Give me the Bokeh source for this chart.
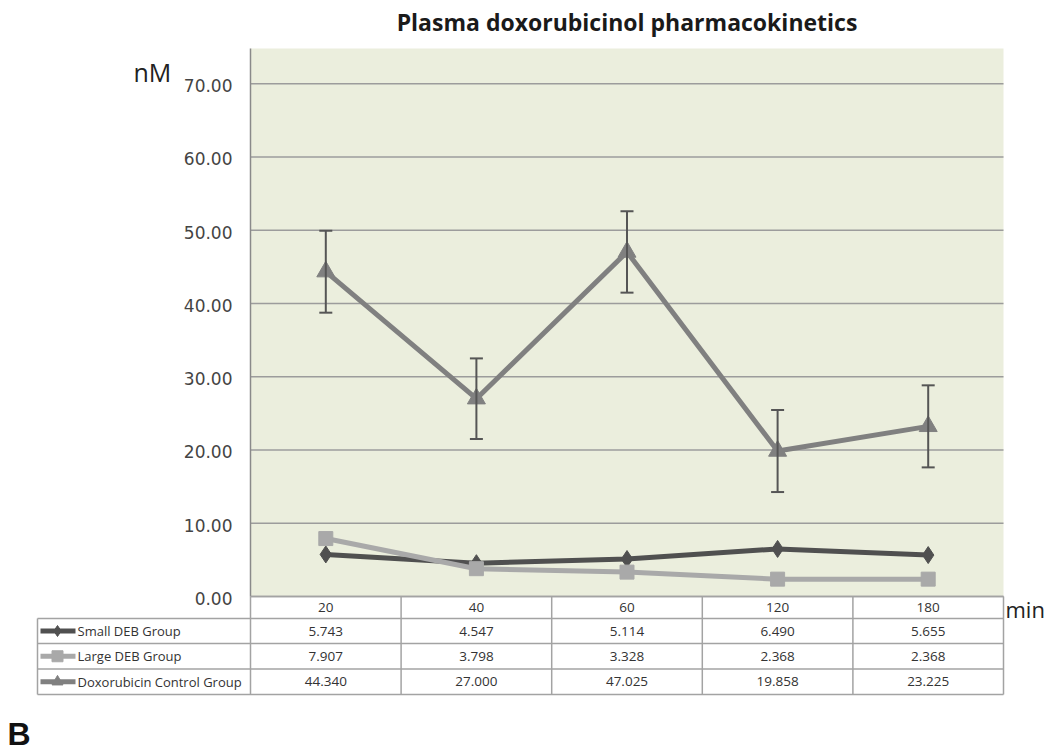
from bokeh.plotting import figure
from bokeh.models import Range1d, ColumnDataSource, Whisker, TeeHead
from bokeh.core.properties import value
from bokeh.embed import file_html
from bokeh.resources import INLINE

# ---------------- data ----------------
categories = ["20", "40", "60", "120", "180"]
series_names = ["Small DEB Group", "Large DEB Group", "Doxorubicin Control Group"]
small_deb = [5.743, 4.547, 5.114, 6.490, 5.655]
large_deb = [7.907, 3.798, 3.328, 2.368, 2.368]
dox_control = [44.340, 27.000, 47.025, 19.858, 23.225]
dox_error = [5.6, 5.5, 5.55, 5.6, 5.6]
y_ticks = [0, 10, 20, 30, 40, 50, 60, 70]
title_text = "Plasma doxorubicinol pharmacokinetics"

series_values = [small_deb, large_deb, dox_control]
series_colors = ["#505050", "#a9a9a9", "#808080"]
series_markers = ["diamond", "square", "triangle"]
series_sizes = [17, 14, 18]

xs = list(range(len(categories)))

# ---------------- layout constants (page pixels) ----------------
W, H = 1050, 756
FRAME_L, FRAME_R, FRAME_T, FRAME_B = 250, 1003, 48, 596
Y_MAX = 74.8
n = len(categories)
col_w = (FRAME_R - FRAME_L) / n
ppu = (FRAME_B - FRAME_T) / Y_MAX   # pixels per y unit


def px_x(p):
    return -0.5 + (p - FRAME_L) / col_w


def px_y(p):
    return (FRAME_B - p) / ppu


p = figure(width=W, height=H, x_range=Range1d(px_x(0), px_x(W)),
           y_range=Range1d(px_y(H), px_y(0)), output_backend="svg",
           toolbar_location=None, x_axis_location=None, y_axis_location=None,
           min_border=0)
p.outline_line_color = None
p.grid.visible = False
p.background_fill_color = "white"
p.border_fill_color = "white"

# plot area background
p.quad(left=[-0.5], right=[n - 0.5], bottom=[0], top=[Y_MAX],
       fill_color="#ebeedd", line_color=None)
# horizontal gridlines
p.segment(x0=[-0.5] * len(y_ticks), y0=y_ticks, x1=[n - 0.5] * len(y_ticks), y1=y_ticks,
          line_color="#9c9c9c", line_width=1.5)
# value axis line
p.segment(x0=[-0.5], y0=[0], x1=[-0.5], y1=[Y_MAX], line_color="#8a8a8a", line_width=1.5)
# value axis labels
p.text(x=[px_x(232)] * len(y_ticks), y=y_ticks, text=["%.2f" % v for v in y_ticks],
       text_align="right", text_baseline="middle", text_font=value("DejaVu Sans"),
       text_font_size="17px", text_color="#444444", y_offset=2)

# series
for vals, col, mk, sz in zip(series_values, series_colors, series_markers, series_sizes):
    p.line(xs, vals, line_color=col, line_width=5)
    p.scatter(xs, vals, marker=mk, size=sz, fill_color=col, line_color=col)

err_src = ColumnDataSource(dict(
    x=xs,
    upper=[v + e for v, e in zip(dox_control, dox_error)],
    lower=[v - e for v, e in zip(dox_control, dox_error)],
))
w = Whisker(source=err_src, base="x", upper="upper", lower="lower",
            line_color="#555555", line_width=2, level="overlay")
w.upper_head = TeeHead(size=13, line_color="#555555", line_width=2)
w.lower_head = TeeHead(size=13, line_color="#555555", line_width=2)
p.add_layout(w)

# title and unit labels
p.text(x=[(n - 1) / 2], y=[px_y(21)], text=[title_text], text_align="center",
       text_baseline="middle", text_font=value("Open Sans"), text_font_style="bold",
       text_font_size="23px", text_color="#1a1a1a")
p.text(x=[px_x(133)], y=[px_y(71)], text=["nM"], text_align="left",
       text_baseline="middle", text_font=value("Open Sans"),
       text_font_size="25px", text_color="#222222")

# ---------------- data table below ----------------
LABEL_L = px_x(37)
row_px = [596, 618, 643, 668.5, 694]
row_edges = [px_y(v) for v in row_px]
col_edges = [k - 0.5 for k in range(n + 1)]
grid_col = "#a3a3a3"

hx0 = [-0.5] + [LABEL_L] * (len(row_edges) - 1)
p.segment(x0=hx0, y0=row_edges, x1=[n - 0.5] * len(row_edges), y1=row_edges,
          line_color=grid_col, line_width=1.5)
p.segment(x0=col_edges, y0=[row_edges[0]] * len(col_edges), x1=col_edges,
          y1=[row_edges[-1]] * len(col_edges), line_color=grid_col, line_width=1.5)
p.segment(x0=[LABEL_L], y0=[row_edges[1]], x1=[LABEL_L], y1=[row_edges[-1]],
          line_color=grid_col, line_width=1.5)

p.text(x=xs, y=[(row_edges[0] + row_edges[1]) / 2] * n, text=categories,
       text_align="center", text_baseline="middle", text_font=value("Open Sans"),
       text_font_size="13.5px", text_color="#333333")

for r, (name, vals, col, mk) in enumerate(zip(series_names, series_values,
                                              series_colors, series_markers)):
    yc = (row_edges[r + 1] + row_edges[r + 2]) / 2
    p.text(x=xs, y=[yc] * n, text=["%.3f" % v for v in vals],
           text_align="center", text_baseline="middle", text_font=value("Open Sans"),
           text_font_size="13.5px", text_color="#333333")
    p.segment(x0=[px_x(40)], y0=[yc], x1=[px_x(75)], y1=[yc], line_color=col, line_width=5)
    p.scatter(x=[px_x(57)], y=[yc], marker=mk, size=11, fill_color=col, line_color=col)
    p.text(x=[px_x(77)], y=[yc], text=[name], text_align="left",
           text_baseline="middle", text_font=value("Open Sans"),
           text_font_size="13px", text_color="#333333")

p.text(x=[px_x(1005)], y=[px_y(608)], text=["min"], text_align="left",
       text_baseline="middle", text_font=value("Open Sans"), text_font_size="22px",
       text_color="#222222")
p.text(x=[px_x(7)], y=[px_y(733)], text=["B"], text_align="left",
       text_baseline="middle", text_font=value("Liberation Sans"),
       text_font_style="bold", text_font_size="32px", text_color="#111111")

open("out.html", "w").write(file_html(p, INLINE))
